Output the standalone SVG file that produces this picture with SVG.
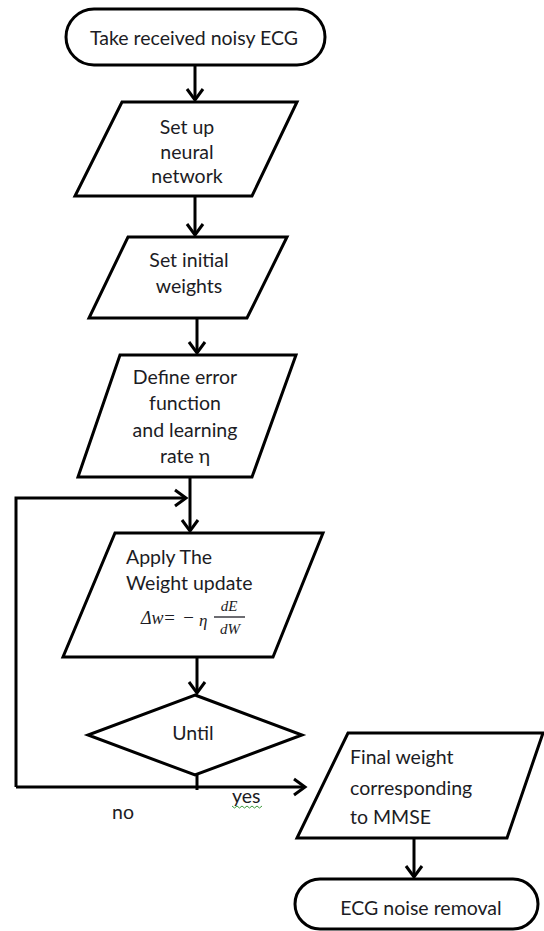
<svg xmlns="http://www.w3.org/2000/svg" width="544" height="931" viewBox="0 0 544 931">
<defs>
<marker id="arr" markerUnits="userSpaceOnUse" markerWidth="20" markerHeight="20" viewBox="-14 -10 16 20" refX="0" refY="0" orient="auto" overflow="visible">
<path d="M-11,-8 L0,0 L-11,8" fill="none" stroke="#000" stroke-width="3"/>
</marker>
<style>
.s{fill:#fff;stroke:#000;stroke-width:3}
.t{font-family:Lato,"Liberation Sans",sans-serif;font-size:19.5px;fill:#1c1c24}
.c{text-anchor:middle}
.m{font-family:"Liberation Serif",serif;font-style:italic;fill:#1c1c24}
.l{fill:none;stroke:#000;stroke-width:3}
</style>
</defs>
<rect width="544" height="931" fill="#fff"/>
<g id="connectors">
<path class="l" d="M195,65 V100" marker-end="url(#arr)"/>
<path class="l" d="M195,196 V235" marker-end="url(#arr)"/>
<path class="l" d="M197,318 V353" marker-end="url(#arr)"/>
<path class="l" d="M190,477 V531" marker-end="url(#arr)"/>
<path class="l" d="M16,787 V498 H186" marker-end="url(#arr)"/>
<path class="l" d="M197,657 V693" marker-end="url(#arr)"/>
<path class="l" d="M197,775 V790"/>
<path class="l" d="M16,787 H305" marker-end="url(#arr)"/>
<path class="l" d="M414,838 V877" marker-end="url(#arr)"/>
<text class="t" x="232" y="803">yes</text>
<path d="M232,806 l2.5,2 l2.5,-2 l2.5,2 l2.5,-2 l2.5,2 l2.5,-2 l2.5,2 l2.5,-2 l2.5,2 l2.5,-2 l2.5,2 l2.5,-2" fill="none" stroke="#3c9a3c" stroke-width="1"/>
<text class="t" x="112" y="819">no</text>
</g>
<g id="start">
<rect class="s" x="66" y="9" width="259" height="56" rx="28"/>
<text class="t c" x="194" y="45">Take received noisy ECG</text>
</g>
<g id="setup">
<polygon class="s" points="122,102 297,102 252,196 75,196"/>
<text class="t c" x="187" y="134">Set up</text>
<text class="t c" x="187" y="159">neural</text>
<text class="t c" x="187" y="183">network</text>
</g>
<g id="weights">
<polygon class="s" points="128,237 287,237 247,318 89,318"/>
<text class="t c" x="189" y="267">Set initial</text>
<text class="t c" x="189" y="293">weights</text>
</g>
<g id="error">
<polygon class="s" points="120,355 296,355 252,477 78,477"/>
<text class="t c" x="185" y="384">Define error</text>
<text class="t c" x="185" y="410">function</text>
<text class="t c" x="185" y="437">and learning</text>
<text class="t c" x="185" y="463">rate η</text>
</g>
<g id="update">
<polygon class="s" points="115,533 323,533 273,657 63,657"/>
<text class="t" x="126" y="564">Apply The</text>
<text class="t" x="126" y="590">Weight update</text>
<text class="m" x="141" y="624" font-size="18">Δw</text>
<text class="m" x="163" y="624" font-size="19" font-style="normal">=</text>
<text class="m" x="182" y="624" font-size="19" font-style="normal">−</text>
<text class="m" x="199" y="626" font-size="17">η</text>
<text class="m" x="229" y="611" font-size="15" text-anchor="middle">dE</text>
<line x1="214" y1="617" x2="245" y2="617" stroke="#1c1c24" stroke-width="1.3"/>
<text class="m" x="230" y="634" font-size="15" text-anchor="middle">dW</text>
</g>
<g id="until">
<polygon class="s" points="195,695 302,735 195,775 88,735"/>
<text class="t c" x="193" y="740">Until</text>
</g>
<g id="final">
<polygon class="s" points="348,733 543,733 507,838 297,838"/>
<text class="t" x="350" y="764">Final weight</text>
<text class="t" x="350" y="795">corresponding</text>
<text class="t" x="350" y="824">to MMSE</text>
</g>
<g id="end">
<rect class="s" x="295" y="879" width="243" height="50" rx="25"/>
<text class="t c" x="421" y="915">ECG noise removal</text>
</g>
</svg>
